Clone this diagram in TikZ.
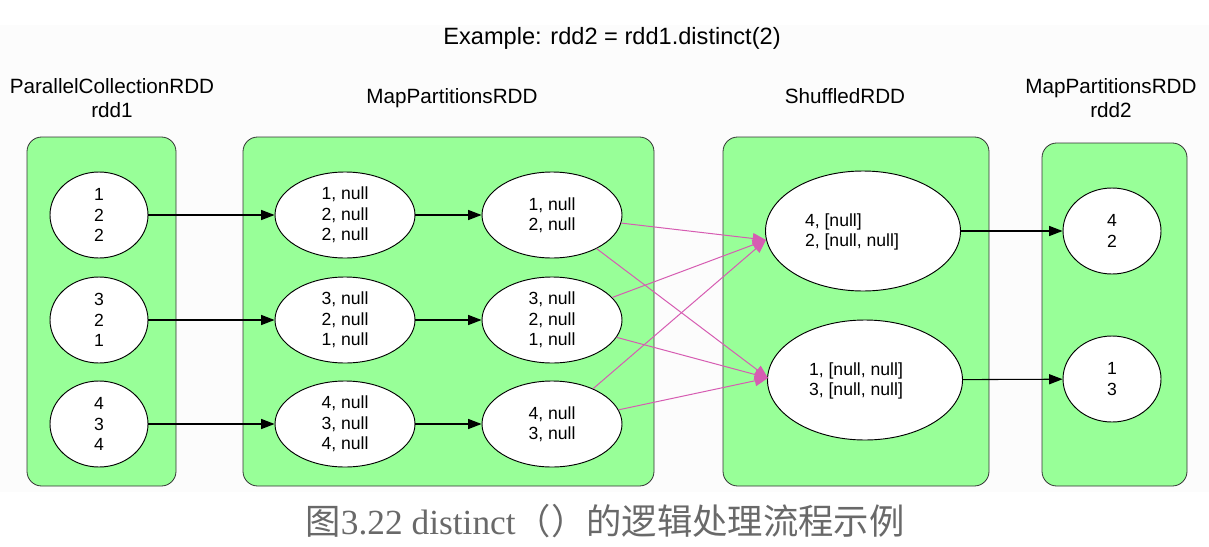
\documentclass[tikz,border=0pt]{standalone}
\usepackage{fontspec}
\setmainfont{Liberation Sans}
\newfontfamily\cjkfont{Noto Sans CJK SC}
\newfontfamily\capserif{Liberation Serif}
\usetikzlibrary{shapes.geometric,arrows.meta}
\definecolor{boxgreen}{RGB}{152,255,152}
\definecolor{shufpink}{RGB}{214,92,178}
\definecolor{capgray}{RGB}{105,105,105}
\definecolor{bgfill}{RGB}{252,252,252}
\begin{document}
\begin{tikzpicture}[x=0.75pt,y=-0.75pt,
  rddbox/.style={draw=black!80, fill=boxgreen, rounded corners=11pt, line width=0.6pt},
  part/.style={ellipse, draw=black, fill=white, line width=0.7pt, inner sep=0pt, align=center,
    font=\fontsize{13.2}{15.3}\selectfont},
  small/.style={part, minimum width=73.5pt, minimum height=64.5pt},
  mid/.style={part, minimum width=105pt, minimum height=64.5pt},
  big/.style={part, minimum width=146.25pt, minimum height=90pt},
  bigtxt/.style={align=left, inner sep=0pt, font=\fontsize{13.2}{15.3}\selectfont},
  arr/.style={-{Triangle[length=10pt,width=7.5pt]}, line width=0.8pt},
  parr/.style={draw=shufpink, -{Triangle[length=10pt,width=8pt]}, line width=0.75pt},
  hdr/.style={align=center, font=\fontsize{15.5}{18}\selectfont}
]
\useasboundingbox (0,0) rectangle (1209,546);
\fill[bgfill] (0,25) rectangle (1209,492);

% title and headers
\node[font=\fontsize{17.7}{20}\selectfont] (title) at (612,38) {Example: rdd2 = rdd1.distinct(2)};
\node[hdr] (h1) at (112,98) {ParallelCollectionRDD\\rdd1};
\node[hdr] (h2) at (452,98) {MapPartitionsRDD};
\node[hdr] (h3) at (845,96) {ShuffledRDD};
\node[hdr] (h4) at (1111,98) {MapPartitionsRDD\\rdd2};

% boxes
\draw[rddbox] (27,137) rectangle (176,486);
\draw[rddbox] (243,137) rectangle (654,486);
\draw[rddbox] (723,137) rectangle (989,486);
\draw[rddbox] (1042,143) rectangle (1187,486);

% partitions
\node[small] (a1) at (99,215) {1\\2\\2};
\node[small] (a2) at (99,320) {3\\2\\1};
\node[small] (a3) at (99,424) {4\\3\\4};

\node[mid] (b1) at (345,215) {1, null\\2, null\\2, null};
\node[mid] (b2) at (345,320) {3, null\\2, null\\1, null};
\node[mid] (b3) at (345,424) {4, null\\3, null\\4, null};

\node[mid] (c1) at (552,215) {1, null\\2, null};
\node[mid] (c2) at (552,320) {3, null\\2, null\\1, null};
\node[mid] (c3) at (552,424) {4, null\\3, null};

\node[big] (s1) at (863,231) {};
\node[bigtxt] (s1t) at (852,232) {4, [null]\\2, [null, null]};
\node[big] (s2) at (865,380) {};
\node[bigtxt] (s2t) at (856,381) {1, [null, null]\\3, [null, null]};

\node[small] (d1) at (1112,231) {4\\2};
\node[small] (d2) at (1112,379) {1\\3};

% connectors
\draw[arr] (a1) -- (b1);
\draw[arr] (a2) -- (b2);
\draw[arr] (a3) -- (b3);
\draw[arr] (b1) -- (c1);
\draw[arr] (b2) -- (c2);
\draw[arr] (b3) -- (c3);

\coordinate (t1) at (766,240);
\coordinate (t2) at (768,378);
\draw[parr] (c1) -- (t1);
\draw[parr] (c1) -- (t2);
\draw[parr] (c2) -- (t1);
\draw[parr] (c2) -- (t2);
\draw[parr] (c3) -- (t1);
\draw[parr] (c3) -- (t2);

\draw[arr] (s1) -- (d1);
\draw[arr] (s2) -- (d2);

% caption
\node[font=\fontsize{26.5}{30}\selectfont, text=capgray] (cap) at (605,521)
  {{\cjkfont 图}{\capserif 3.22 distinct}{\cjkfont （）的逻辑处理流程示例}};
\end{tikzpicture}
\end{document}
